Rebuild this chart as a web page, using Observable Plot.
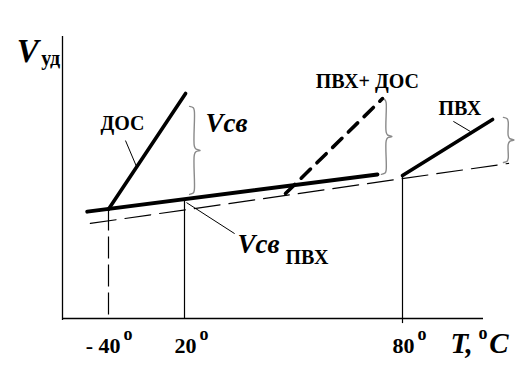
<!DOCTYPE html>
<html><head><meta charset="utf-8">
<script src="https://cdn.jsdelivr.net/npm/d3@7"></script>
<script src="https://cdn.jsdelivr.net/npm/@observablehq/plot@0.6"></script>
<style>html,body{margin:0;padding:0;background:#fff;}</style>
</head><body><div id="chart"></div>
<script>
// ---- data (schematic: temperature T in °C, specific volume V in arbitrary units) ----
const tickTemps = [-40, 20, 80];
const tickLabels = ["- 40", "20", "80"];
const tickSup = ["o", "o", "o"];

// glassy-state base line (thick), plasticiser line ДОС, mix ПВХ+ДОС (dashed), ПВХ line
const baseT = [-56.6, 73.1];  const baseV = [37.9, 51.1];
const dosT = [-40, 20.3];     const dosV = [38.7, 79.8];
const mixT = [47.8, 74.5];    const mixV = [44.3, 78.0];
const pvcT = [80, 104.8];     const pvcV = [50.7, 70.6];
// thin dashed reference line
const refT = [-54.2, 109.2];  const refV = [33.7, 55.0];
// vertical guides from the x axis up to the curves
const guideT = [-40, 20, 80];
const guideTop = [38.8, 42.4, 50.7];
const guideBottom = [0, 0, -1.8];
// braces (free volume V св)
const braceT = [21.4, 74.2, 107.8];
const braceLow = [44.0, 51.1, 55.3];
const braceHigh = [75.2, 78.0, 71.3];
// leader lines
const leadT0 = [-26.6, 94.0, 20.55]; const leadV0 = [63.1, 69.9, 41.1];
const leadT1 = [-17.9, 98.7, 33.8];  const leadV1 = [53.9, 66.3, 30.1];
// curve labels
const labelText = ["ДОС", "ПВХ+ ДОС", "ПВХ"];
const labelT = [-46.3, 56.1, 89.9];
const labelV = [66.7, 81.6, 72.0];
// free-volume labels
const vsvText = ["Vсв", "Vсв"];
const vsvT = [25.8, 34.6];
const vsvV = [66.3, 23.4];
const vsvSubText = ["ПВХ"];
const vsvSubT = [47.8];
const vsvSubV = [19.5];
// axis titles
const yTitleMain = ["V"];  const yTitleMainT = [-111.8]; const yTitleMainV = [90.8];
const yTitleSub = ["уд"];  const yTitleSubT = [-92.6];   const yTitleSubV = [89.8];
const xTitleParts = ["T,", "C"]; const xTitlePartT = [93.2, 103.9]; const xTitlePartV = [-12.4, -12.4];
const xTitleSup = ["o"]; const xTitleSupT = [100.9]; const xTitleSupV = [-7.4];
// axis extents
const tMin = -76, tMax = 102.3, vMin = 0, vMax = 100;

// ---- build tables ----
const seg = (T, V) => T.map((t, i) => ({T: t, V: V[i]}));
const ticks = tickTemps.map((t, i) => ({T: t, label: tickLabels[i], sup: tickSup[i]}));
const guides = guideT.map((t, i) => ({T: t, top: guideTop[i], bottom: guideBottom[i]}));
const leaders = leadT0.map((t, i) => ({T0: t, V0: leadV0[i], T1: leadT1[i], V1: leadV1[i]}));
const labels = labelText.map((s, i) => ({s, T: labelT[i], V: labelV[i]}));
const vsv = vsvText.map((s, i) => ({s, T: vsvT[i], V: vsvV[i]}));
const vsvSub = vsvSubText.map((s, i) => ({s, T: vsvSubT[i], V: vsvSubV[i]}));

// brace outline points built from each brace's extent
const braceW = 2.9, braceR = 1.2;
const braces = [];
braceT.forEach((t, k) => {
  const lo = braceLow[k], hi = braceHigh[k], mid = (lo + hi) / 2;
  const pts = [
    [0, hi], [0.35, hi - 0.4 * braceR], [0.45, hi - 1.3 * braceR],
    [0.45, mid + 1.3 * braceR], [0.6, mid + 0.4 * braceR], [1, mid],
    [0.6, mid - 0.4 * braceR], [0.45, mid - 1.3 * braceR],
    [0.45, lo + 1.3 * braceR], [0.35, lo + 0.4 * braceR], [0, lo]
  ];
  pts.forEach(([f, v]) => braces.push({id: k, T: t + f * braceW, V: v}));
});

const serif = "Liberation Serif, Times New Roman, serif";

const chart = Plot.plot({
  width: 529,
  height: 365,
  marginTop: 36,
  marginBottom: 47,
  marginLeft: 62,
  marginRight: 46,
  style: {fontFamily: serif, background: "white", color: "black", overflow: "visible"},
  x: {type: "linear", domain: [tMin, -40, 20, 80, tMax], range: [62, 108, 184, 402, 483], axis: null},
  y: {domain: [vMin, vMax], axis: null},
  marks: [
    // axes
    Plot.ruleX([tMin], {y1: -0.7, y2: vMax, stroke: "black", strokeWidth: 1.3}),
    Plot.ruleY([vMin], {x1: tMin, x2: tMax, stroke: "black", strokeWidth: 1.3}),
    // vertical guides
    Plot.ruleX(guides.filter(d => d.T === -40), {x: "T", y1: "top", y2: "bottom", stroke: "black", strokeWidth: 1.2, strokeDasharray: "22,6"}),
    Plot.ruleX(guides.filter(d => d.T !== -40), {x: "T", y1: "bottom", y2: "top", stroke: "black", strokeWidth: 1.2}),
    // thin dashed reference line
    Plot.line(seg(refT, refV), {x: "T", y: "V", stroke: "black", strokeWidth: 1.2, strokeDasharray: "26,9"}),
    // leader lines
    Plot.link(leaders, {x1: "T0", y1: "V0", x2: "T1", y2: "V1", stroke: "black", strokeWidth: 1}),
    // braces
    Plot.line(braces, {x: "T", y: "V", z: "id", curve: "catmull-rom", stroke: "#8a8a8a", strokeWidth: 1.4}),
    // thick curves
    Plot.line(seg(baseT, baseV), {x: "T", y: "V", stroke: "black", strokeWidth: 4}),
    Plot.line(seg(dosT, dosV), {x: "T", y: "V", stroke: "black", strokeWidth: 3.6}),
    Plot.line(seg(pvcT, pvcV), {x: "T", y: "V", stroke: "black", strokeWidth: 3.6}),
    Plot.line(seg(mixT, mixV), {x: "T", y: "V", stroke: "black", strokeWidth: 3.6, strokeDasharray: "13,9"}),
    // tick labels
    Plot.text(ticks, {x: "T", y: vMin, text: "label", textAnchor: "end", lineAnchor: "bottom", dx: 12, dy: 34, fontSize: 22, fontWeight: "bold", fill: "black"}),
    Plot.text(ticks, {x: "T", y: vMin, text: "sup", textAnchor: "start", lineAnchor: "bottom", dx: 15, dy: 21, fontSize: 18, fontWeight: "bold", fill: "black"}),
    // curve labels
    Plot.text(labels, {x: "T", y: "V", text: "s", textAnchor: "start", lineAnchor: "bottom", fontSize: 20, fontWeight: "bold", fill: "black"}),
    Plot.text(vsv, {x: "T", y: "V", text: "s", textAnchor: "start", lineAnchor: "bottom", fontSize: 27, fontStyle: "italic", fontWeight: "bold", fill: "black"}),
    Plot.text(vsvSub, {x: "T", y: "V", text: "s", textAnchor: "start", lineAnchor: "bottom", fontSize: 20, fontWeight: "bold", fill: "black"}),
    // axis titles
    Plot.text(yTitleMain, {x: yTitleMainT, y: yTitleMainV, text: d => d, textAnchor: "start", lineAnchor: "bottom", fontSize: 33, fontStyle: "italic", fontWeight: "bold", fill: "black"}),
    Plot.text(yTitleSub, {x: yTitleSubT, y: yTitleSubV, text: d => d, textAnchor: "start", lineAnchor: "bottom", fontSize: 20, fontWeight: "bold", fill: "black"}),
    Plot.text(xTitleParts, {x: xTitlePartT, y: xTitlePartV, text: d => d, textAnchor: "start", lineAnchor: "bottom", fontSize: 29, fontStyle: "italic", fontWeight: "bold", fill: "black"}),
    Plot.text(xTitleSup, {x: xTitleSupT, y: xTitleSupV, text: d => d, textAnchor: "start", lineAnchor: "bottom", fontSize: 18, fontWeight: "bold", fill: "black"})
  ]
});
document.getElementById("chart").appendChild(chart);
</script>
</body></html>
